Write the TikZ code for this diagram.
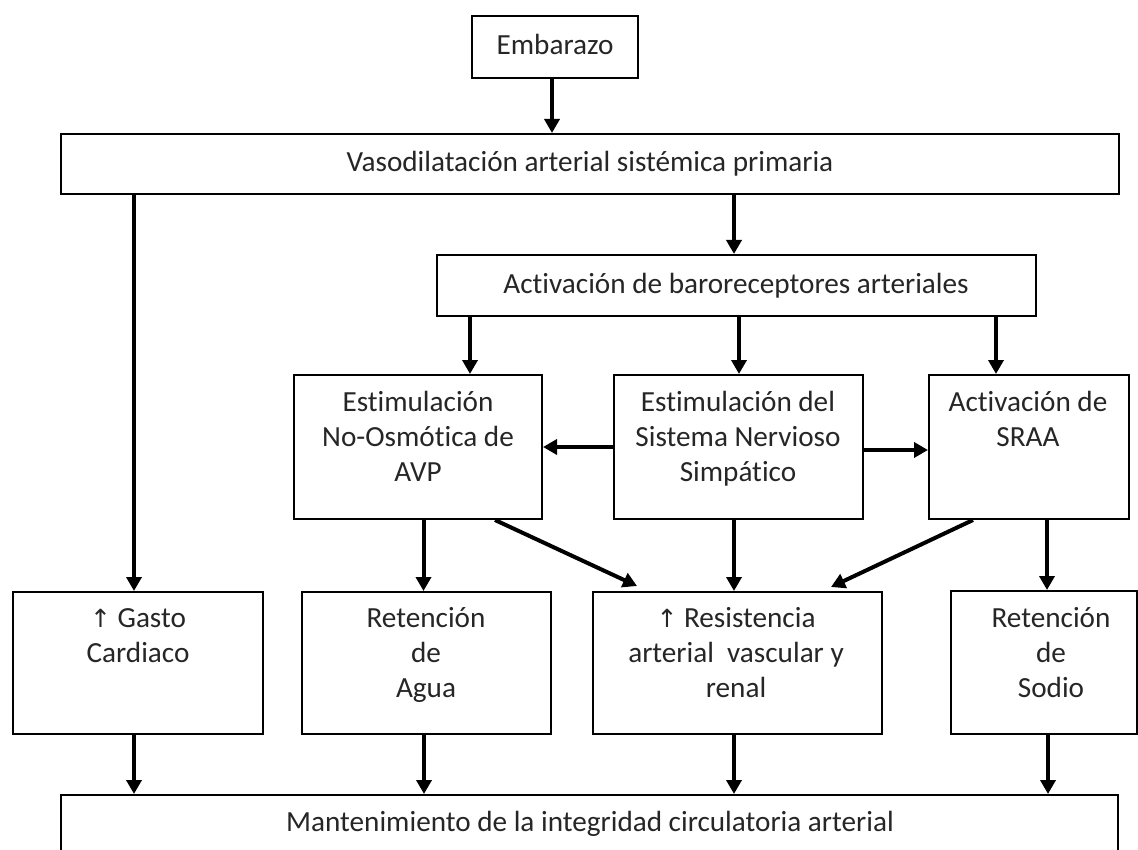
\documentclass[tikz,border=0pt]{standalone}
\usepackage{fontspec}
\setmainfont[Ligatures=CommonOff]{Carlito}
\newfontfamily\arrowfont{DejaVu Sans}
\usetikzlibrary{arrows.meta,calc}
\newcommand{\upar}{{\arrowfont\fontsize{25}{35}\selectfont ↑}}
\begin{document}
\begin{tikzpicture}[x=1pt,y=-1pt,
  box/.style={draw=black, line width=2pt, fill=none, inner sep=0pt},
  txt/.style={anchor=base, align=center, inner sep=0pt, font=\fontsize{29.2}{35}\selectfont, text=black!85},
  arr/.style={line width=4pt, -{Triangle[width=15pt,length=14pt]}}
]
\useasboundingbox (0,0) rectangle (1138,850);
\clip (0,0) rectangle (1138,850);
\fill[white] (0,0) rectangle (1138,850);

% boxes
\node[box, minimum width=166pt, minimum height=62pt] (emb) at (555,47) {};
\node[box, minimum width=1058pt, minimum height=60pt] (vaso) at (590,164) {};
\node[box, minimum width=599pt, minimum height=61pt] (baro) at (736.5,285.5) {};
\node[box, minimum width=248pt, minimum height=144pt] (avp) at (418,447) {};
\node[box, minimum width=249pt, minimum height=144pt] (sns) at (738.5,447) {};
\node[box, minimum width=200pt, minimum height=144pt] (sraa) at (1029,447) {};
\node[box, minimum width=250pt, minimum height=142pt] (gasto) at (138,663) {};
\node[box, minimum width=249pt, minimum height=142pt] (agua) at (426.5,663) {};
\node[box, minimum width=289pt, minimum height=142pt] (res) at (737.5,663) {};
\node[box, minimum width=186pt, minimum height=143pt] (sodio) at (1044,662.5) {};
\node[box, minimum width=1057pt, minimum height=100pt] (mant) at (589.5,845) {};

% texts (anchor base = baseline of the last line)
\node[txt] (embt) at (555,55) {Embarazo};
\node[txt] (vasot) at (590,171.7) {Vasodilatación arterial sistémica primaria};
\node[txt] (barot) at (736,293.3) {Activación de baroreceptores arteriales};
\node[txt] (avpt) at (418,481.7) {Estimulación\\No-Osmótica de\\AVP};
\node[txt] (snst) at (738,481.7) {Estimulación del\\Sistema Nervioso\\Simpático};
\node[txt] (sraat) at (1028,446.7) {Activación de\\SRAA};
\node[txt] (gastot) at (138,662.5) {\upar\ Gasto\\Cardiaco};
\node[txt] (aguat) at (426,697.5) {Retención\\de\\Agua};
\node[txt] (rest) at (736,697.5) {\upar\ Resistencia\\arterial~ vascular y\\renal};
\node[txt] (sodiot) at (1051,697.5) {Retención\\de\\Sodio};
\node[txt] (mantt) at (590,831.7) {Mantenimiento de la integridad circulatoria arterial};

% connectors
\coordinate (d1) at (637,586);
\coordinate (d2) at (831,587);
\draw[arr] (552,0 |- emb.south) -- (552,0 |- vaso.north);
\draw[arr] (134,0 |- vaso.south) -- (134,0 |- gasto.north);
\draw[arr] (734,0 |- vaso.south) -- (734,0 |- baro.north);
\draw[arr] (470,0 |- baro.south) -- (470,0 |- avp.north);
\draw[arr] (739,0 |- baro.south) -- (739,0 |- sns.north);
\draw[arr] (996,0 |- baro.south) -- (996,0 |- sraa.north);
\draw[arr] (sns.west |- 0,447) -- (avp.east |- 0,447);
\draw[arr] (sns.east |- 0,450) -- (sraa.west |- 0,450);
\draw[arr] (423.5,0 |- avp.south) -- (423.5,0 |- agua.north);
\draw[arr] (495,0 |- avp.south) -- (d1);
\draw[arr] (734,0 |- sns.south) -- (734,0 |- res.north);
\draw[arr] (973,0 |- sraa.south) -- (d2);
\draw[arr] (1047,0 |- sraa.south) -- (1047,0 |- sodio.north);
\draw[arr] (134,0 |- gasto.south) -- (134,0 |- mant.north);
\draw[arr] (424,0 |- agua.south) -- (424,0 |- mant.north);
\draw[arr] (734,0 |- res.south) -- (734,0 |- mant.north);
\draw[arr] (1048,0 |- sodio.south) -- (1048,0 |- mant.north);
\end{tikzpicture}
\end{document}
